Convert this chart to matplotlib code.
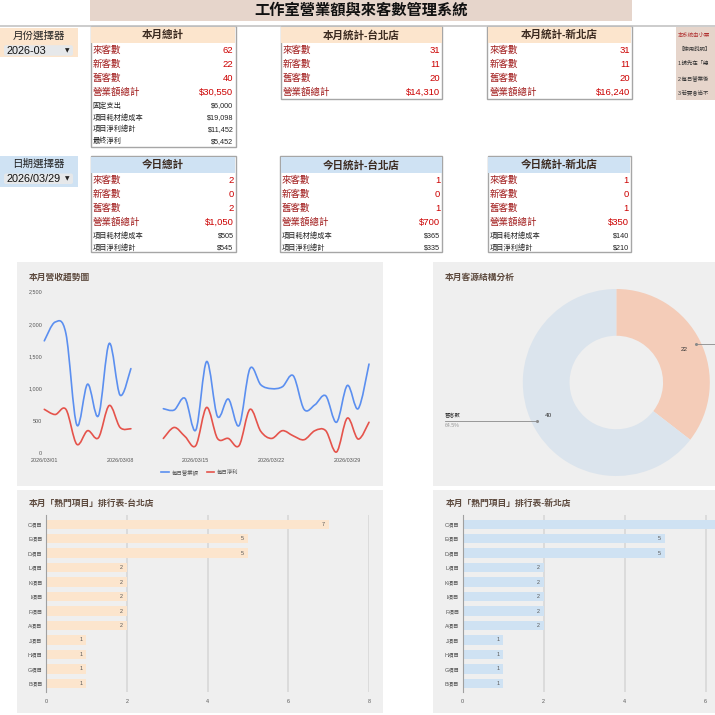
import numpy as np
import matplotlib
matplotlib.use('Agg')
import matplotlib.pyplot as plt
from matplotlib.patches import Rectangle, FancyBboxPatch, PathPatch
from matplotlib.path import Path
from matplotlib.lines import Line2D

plt.rcParams['font.family'] = ['Liberation Sans', 'Noto Sans CJK TC', 'DejaVu Sans']

W = H = 715

# ---- data ----
title = '工作室營業額與來客數管理系統'
month = '2026-03'
today = '2026/03/29'

month_rows = ['來客數', '新客數', '舊客數', '營業額總計', '固定支出', '項目耗材總成本', '項目淨利總計', '最終淨利']
month_total = [62, 22, 40, 30550, 6000, 19098, 11452, 5452]
month_taipei = [31, 11, 20, 14310]
month_newtaipei = [31, 11, 20, 16240]

day_rows = ['來客數', '新客數', '舊客數', '營業額總計', '項目耗材總成本', '項目淨利總計']
day_total = [2, 0, 2, 1050, 505, 545]
day_taipei = [1, 0, 1, 700, 365, 335]
day_newtaipei = [1, 0, 1, 350, 140, 210]

# the note panel is cut by the page edge in the screenshot
notes = ['本系統由小粟', '【使用說明】', '1.請先在「總', '2.每日營業後', '3.若要會尚不']

nan = np.nan
days = list(range(1, 32))
daily_revenue = [1740, 2030, 1850, 440, 1070, 580, 1700, 900, 1310, nan, nan,
                 690, 670, 850, 360, 1420, 570, 840, 430, 1310, 1060, 1000,
                 1030, 1200, 680, 750, 890, 480, 1050, 690, 1380]
daily_profit = [680, 600, 680, 140, 350, 240, 740, 400, 380, nan, nan,
                230, 400, 260, 120, 710, 230, 230, 120, 680, 340, 230,
                350, 270, 210, 350, 350, 20, 545, 220, 480]
date_ticks = [1, 8, 15, 22, 29]
date_labels = ['2026/03/01', '2026/03/08', '2026/03/15', '2026/03/22', '2026/03/29']

source_labels = ['新客數', '舊客數']
source_values = [22, 40]

items = ['C項目', 'E項目', 'D項目', 'L項目', 'K項目', 'I項目', 'F項目', 'A項目',
         'J項目', 'H項目', 'G項目', 'B項目']
taipei_counts = [7, 5, 5, 2, 2, 2, 2, 2, 1, 1, 1, 1]
newtaipei_counts = [7, 5, 5, 2, 2, 2, 2, 2, 1, 1, 1, 1]

# ---- colours ----
orange = '#fce5cd'
blue = '#cfe2f3'
panel = '#efefef'
head_txt = '#3b2a20'
title_txt = '#5d4a3e'

fig = plt.figure(figsize=(7.15, 7.15), dpi=100)
cv = fig.add_axes([0, 0, 1, 1])
cv.set_xlim(0, W)
cv.set_ylim(H, 0)
cv.axis('off')
cv.set_zorder(-1)


def fmt(i, v):
    return f'${v:,}' if i >= 3 else str(v)


def table(x0, x1, y0, y1, head, hcol, labels, values):
    cv.add_patch(Rectangle((x0, y0), x1 - x0, y1 - y0, fc='white', ec='#a6a6a6', lw=1.0))
    cv.add_patch(Rectangle((x0 + 0.6, y0 + 0.6), x1 - x0 - 1.2, 16, fc=hcol, ec='none'))
    cv.text((x0 + x1) / 2, y0 + 9, head, ha='center', va='center', fontsize=7.6,
            fontweight='bold', color=head_txt)
    for i, (lab, val) in enumerate(zip(labels, values)):
        if i < 4:
            y = y0 + 24.5 + 13.9 * i
            cv.text(x0 + 2, y, lab, ha='left', va='center', fontsize=6.8, color='#a11c1c')
            cv.text(x1 - 2, y, fmt(i, val), ha='right', va='center', fontsize=6.8, color='#cc0000')
        else:
            y = y0 + 80 + 11.7 * (i - 4)
            cv.text(x0 + 2, y, lab, ha='left', va='center', fontsize=5.2, color='#222222')
            cv.text(x1 - 2, y, fmt(i, val), ha='right', va='center', fontsize=5.2, color='#222222')


def selector(y0, y1, fill, label, value):
    cv.add_patch(Rectangle((0, y0), 77.7, y1 - y0, fc=fill, ec='none'))
    cv.text(38.5, y0 + 7.5, label, ha='center', va='center', fontsize=7.6, color='#222222')
    cv.add_patch(FancyBboxPatch((4, y0 + 17.5), 69, 10.5, boxstyle='round,pad=0,rounding_size=2',
                                fc='#e6e8ea', ec='none'))
    cv.text(6.5, y0 + 23, value, ha='left', va='center', fontsize=7.8, color='#111111')
    cv.text(67.5, y0 + 23, '▼', ha='center', va='center', fontsize=4.2, color='#222222',
            family='DejaVu Sans')


# title bar and separator
cv.add_patch(Rectangle((90, 0), 542, 20.7, fc='#e6d5cb', ec='none'))
cv.text(361, 10.5, title, ha='center', va='center', fontsize=11, fontweight='bold', color='#111111')
cv.plot([0, W], [26, 26], color='#c4c4c4', lw=1.2)

selector(27.7, 57.3, orange, '月份選擇器', month)
selector(156, 186.5, blue, '日期選擇器', today)

table(90.5, 235.5, 26, 147, '本月總計', orange, month_rows, month_total)
table(280.7, 442.3, 26, 99.3, '本月統計-台北店', orange, month_rows[:4], month_taipei)
table(487.3, 631.7, 26, 99.3, '本月統計-新北店', orange, month_rows[:4], month_newtaipei)

table(90.5, 235.5, 156, 252.3, '今日總計', blue, day_rows, day_total)
table(280, 442.3, 156, 252.3, '今日統計-台北店', blue, day_rows, day_taipei)
table(487.7, 631, 156, 252.3, '今日統計-新北店', blue, day_rows, day_newtaipei)

# note panel
cv.add_patch(Rectangle((676, 27), 60, 73, fc='#e6d5cb', ec='none'))
for i, line in enumerate(notes):
    cv.text(678, 35 + 14.4 * i, line, ha='left', va='center', fontsize=3.9,
            color='#b03030' if i == 0 else '#333333')

# chart panels
for (x0, y0, x1, y1) in [(17, 262, 383, 486), (433, 262, 730, 486),
                         (17, 490, 383, 713), (433, 490, 730, 713)]:
    cv.add_patch(Rectangle((x0, y0), x1 - x0, y1 - y0, fc=panel, ec='none'))

cv.text(29, 277.3, '本月營收趨勢圖', ha='left', va='center', fontsize=6.3,
        fontweight='bold', color=title_txt)
cv.text(445, 277.3, '本月客源結構分析', ha='left', va='center', fontsize=6.3,
        fontweight='bold', color=title_txt)
cv.text(28.3, 503.3, '本月「熱門項目」排行表-台北店', ha='left', va='center', fontsize=6.3,
        fontweight='bold', color=title_txt)
cv.text(445.7, 503.3, '本月「熱門項目」排行表-新北店', ha='left', va='center', fontsize=6.3,
        fontweight='bold', color=title_txt)


def pax(x0, y0, x1, y1):
    return fig.add_axes([x0 / W, 1 - y1 / H, (x1 - x0) / W, (y1 - y0) / H])


# ---- line chart ----
def smooth_path(xs, ys):
    verts = [(xs[0], ys[0])]
    codes = [Path.MOVETO]
    n = len(xs)
    for i in range(n - 1):
        a, b, c, d = max(i - 1, 0), i, i + 1, min(i + 2, n - 1)
        c1 = (xs[b] + (xs[c] - xs[a]) / 6, ys[b] + (ys[c] - ys[a]) / 6)
        c2 = (xs[c] - (xs[d] - xs[b]) / 6, ys[c] - (ys[d] - ys[b]) / 6)
        verts += [c1, c2, (xs[c], ys[c])]
        codes += [Path.CURVE4] * 3
    return Path(verts, codes)


def draw_smooth(ax, xs, ys, color):
    xs = np.asarray(xs, float)
    ys = np.asarray(ys, float)
    ok = ~np.isnan(ys)
    start = None
    for i in range(len(xs) + 1):
        if i < len(xs) and ok[i]:
            if start is None:
                start = i
        elif start is not None:
            p = smooth_path(xs[start:i], ys[start:i])
            ax.add_patch(PathPatch(p, fc='none', ec=color, lw=1.2, clip_on=False,
                                   capstyle='round', joinstyle='round'))
            start = None


ax = pax(44.3, 291.7, 369, 453.3)
ax.set_facecolor('none')
ax.set_xlim(1, 31)
ax.set_ylim(0, 2500)
rev_col, prof_col = '#5b8ff0', '#e5534b'
draw_smooth(ax, days, daily_revenue, rev_col)
draw_smooth(ax, days, daily_profit, prof_col)
ax.set_yticks(range(0, 2501, 500))
ax.set_yticklabels([f'{v:,}' for v in range(0, 2501, 500)])
ax.set_xticks(date_ticks)
ax.set_xticklabels(date_labels)
ax.tick_params(length=0, labelsize=3.9, labelcolor='#555555')
ax.tick_params(axis='y', pad=1.5)
ax.tick_params(axis='x', pad=3.5)
for s in ax.spines.values():
    s.set_visible(False)
handles = [Line2D([], [], color=rev_col, lw=1.2), Line2D([], [], color=prof_col, lw=1.2)]
fig.legend(handles, ['每日營業額', '每日淨利'], loc='center', bbox_to_anchor=(200 / W, 1 - 472.3 / H),
           ncol=2, frameon=False, fontsize=3.9, handlelength=1.3, columnspacing=1.5,
           handletextpad=0.6, labelcolor='#555555')

# ---- donut ----
cx, cy, r = 616.3, 382.5, 93.5
dx = pax(433, 262, 800, 486)
total = sum(source_values)
wedges, _, autotexts = dx.pie(source_values, colors=['#f4ccb8', '#dbe4ed'], startangle=90,
                              counterclock=False, radius=1, wedgeprops=dict(width=0.5, lw=0),
                              autopct=lambda p: f'{round(p * total / 100)}', pctdistance=0.81,
                              textprops=dict(fontsize=4.6, color='#333333'))
dx.set_xlim((433 - cx) / r, (800 - cx) / r)
dx.set_ylim((cy - 486) / r, (cy - 262) / r)
dx.set_aspect('auto')
dx.axis('off')
for w, lab, v in zip(wedges, source_labels, source_values):
    ang = np.deg2rad((w.theta1 + w.theta2) / 2)
    px, py = 0.945 * np.cos(ang), 0.945 * np.sin(ang)
    tx = (445 - cx) / r if px < 0 else (760 - cx) / r
    dx.plot([px, tx], [py, py], color='#8a8a8a', lw=0.6, clip_on=False)
    dx.plot([px], [py], 'o', ms=1.2, color='#8a8a8a', clip_on=False)
    if px < 0:  # the right-hand label lies past the page edge
        dx.text(tx, py + 0.03, lab, ha='left', va='bottom', fontsize=3.8, color='#333333')
        dx.text(tx, py - 0.02, f'{v / total * 100:.1f}%', ha='left', va='top',
                fontsize=3.8, color='#999999')


# ---- bar charts ----
def bar_chart(x0, unit, counts, color):
    bx = pax(x0, 515, x0 + 8 * unit, 692)
    bx.set_facecolor('none')
    pos = np.arange(len(items))
    bx.barh(pos, counts, height=0.65, color=color, zorder=2)
    bx.set_xlim(0, 8)
    bx.set_ylim(11.6, -0.64)
    bx.set_yticks(pos)
    bx.set_yticklabels(items)
    bx.set_xticks(range(0, 9, 2))
    bx.grid(axis='x', color='#d6d6d6', lw=1.1, zorder=0)
    bx.tick_params(length=0, labelsize=3.9, labelcolor='#555555')
    bx.tick_params(axis='y', pad=2.5)
    bx.tick_params(axis='x', pad=5)
    for s in ['top', 'right', 'bottom']:
        bx.spines[s].set_visible(False)
    bx.spines['left'].set_color('#a0a0a0')
    bx.spines['left'].set_linewidth(0.8)
    bx.spines['left'].set_zorder(3)
    for p, v in zip(pos, counts):
        if x0 + v * unit < W - 4:
            bx.text(v - 0.1, p, str(v), ha='right', va='center', fontsize=3.9,
                    color='#555555', zorder=3)
    # hide tick labels that fall past the page edge
    for t, val in zip(bx.get_xticklabels(), range(0, 9, 2)):
        if x0 + val * unit > W - 4:
            t.set_visible(False)


bar_chart(46, 40.4, taipei_counts, orange)
bar_chart(462.7, 40.5, newtaipei_counts, blue)

fig.savefig('out.png', dpi=100)
